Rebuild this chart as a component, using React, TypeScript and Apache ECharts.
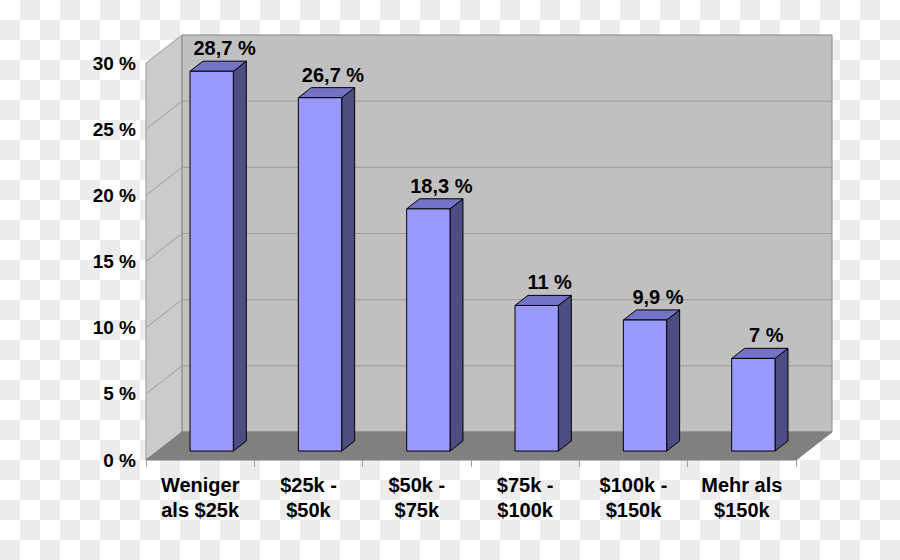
import React, { useEffect, useRef } from "react";
import * as echarts from "echarts";

const categories = [
  "Weniger\nals $25k",
  "$25k -\n$50k",
  "$50k -\n$75k",
  "$75k -\n$100k",
  "$100k -\n$150k",
  "Mehr als\n$150k",
];
const values = [28.7, 26.7, 18.3, 11, 9.9, 7];
const yTicks = [0, 5, 10, 15, 20, 25, 30];

const FONT = '"Liberation Sans", Arial, Helvetica, sans-serif';
const DX = 36;
const DY = -28;
const F0 = 0.32;
const F1 = 0.68;

export default function App() {
  const ref = useRef<HTMLDivElement>(null);
  useEffect(() => {
    if (!ref.current) return;
    const chart = echarts.init(ref.current, null, { renderer: "svg" });
    const fmt = (v: number) => String(v).replace(".", ",") + " %";
    chart.setOption({
      animation: false,
      backgroundColor: "transparent",
      grid: { left: 146, right: 104, top: 63, bottom: 100 },
      xAxis: {
        type: "category",
        data: categories,
        axisLine: { show: false },
        axisTick: { show: true, length: 7, lineStyle: { color: "#a0a0a0" } },
        axisLabel: {
          margin: 12,
          fontSize: 20,
          fontWeight: "bold",
          fontFamily: FONT,
          color: "#000",
          lineHeight: 25,
          interval: 0,
        },
        splitLine: { show: false },
      },
      yAxis: {
        type: "value",
        min: 0,
        max: 30,
        interval: 5,
        axisLine: { show: false },
        axisTick: { show: false },
        splitLine: { show: false },
        axisLabel: {
          formatter: (v: number) => v + " %",
          margin: 10,
          fontSize: 19,
          fontWeight: "bold",
          fontFamily: FONT,
          color: "#000",
        },
      },
      series: [
        {
          type: "custom",
          z: 1,
          silent: true,
          data: [[0, 0]],
          renderItem: (params: any, api: any) => {
            const cs = params.coordSys;
            const x0 = cs.x;
            const x1 = cs.x + cs.width;
            const yT = cs.y;
            const yB = cs.y + cs.height;
            const children: any[] = [
              {
                type: "polygon",
                shape: { points: [[x0, yT], [x0 + DX, yT + DY], [x0 + DX, yB + DY], [x0, yB]] },
                style: { fill: "#cbcbcb", stroke: "#9a9a9a", lineWidth: 1 },
              },
              {
                type: "rect",
                shape: { x: x0 + DX, y: yT + DY, width: cs.width, height: cs.height },
                style: { fill: "#c0c0c0", stroke: "#8a8a8a", lineWidth: 1 },
              },
            ];
            yTicks.forEach((v) => {
              if (v === 0 || v === 30) return;
              const y = api.coord([0, v])[1];
              children.push({
                type: "line",
                shape: { x1: x0 + DX, y1: y + DY, x2: x1 + DX, y2: y + DY },
                style: { stroke: "#9c9c9c", lineWidth: 1 },
              });
              children.push({
                type: "line",
                shape: { x1: x0, y1: y, x2: x0 + DX, y2: y + DY },
                style: { stroke: "#9c9c9c", lineWidth: 1 },
              });
            });
            children.push({
              type: "polygon",
              shape: { points: [[x0, yB], [x0 + DX, yB + DY], [x1 + DX, yB + DY], [x1, yB]] },
              style: { fill: "#808080", stroke: "#808080", lineWidth: 1 },
            });
            return { type: "group", children };
          },
        },
        {
          type: "custom",
          z: 2,
          data: values.map((v, i) => [i, v]),
          encode: { x: 0, y: 1 },
          renderItem: (params: any, api: any) => {
            const idx = api.value(0);
            const val = api.value(1);
            const base = api.coord([idx, 0]);
            const top = api.coord([idx, val]);
            const bw = api.size([1, 0])[0] * 0.4;
            const fx = base[0] - bw / 2 + DX * F0;
            const yb = base[1] + DY * F0;
            const yt = top[1] + DY * F0;
            const ddx = DX * (F1 - F0);
            const ddy = DY * (F1 - F0);
            const stroke = { stroke: "#000", lineWidth: 1, lineJoin: "round" };
            return {
              type: "group",
              children: [
                {
                  type: "polygon",
                  shape: { points: [[fx + bw, yt], [fx + bw + ddx, yt + ddy], [fx + bw + ddx, yb + ddy], [fx + bw, yb]] },
                  style: { fill: "#4d4d82", ...stroke },
                },
                {
                  type: "polygon",
                  shape: { points: [[fx, yt], [fx + ddx, yt + ddy], [fx + bw + ddx, yt + ddy], [fx + bw, yt]] },
                  style: { fill: "#7373c8", ...stroke },
                },
                {
                  type: "rect",
                  shape: { x: fx, y: yt, width: bw, height: yb - yt },
                  style: { fill: "#9999ff", ...stroke },
                },
                {
                  type: "text",
                  style: {
                    text: fmt(val),
                    x: fx + bw / 2 + ddx,
                    y: yt + ddy - 3,
                    align: "center",
                    verticalAlign: "bottom",
                    fontSize: 20,
                    fontWeight: "bold",
                    fontFamily: FONT,
                    fill: "#000",
                  },
                },
              ],
            };
          },
        },
      ],
    });
    return () => chart.dispose();
  }, []);
  return (
    <div
      ref={ref}
      style={{
        position: "absolute",
        left: 0,
        top: 0,
        width: 900,
        height: 560,
        backgroundColor: "#ffffff",
        backgroundImage: "repeating-conic-gradient(#ececec 0 25%, #ffffff 0 50%)",
        backgroundSize: "40px 40px",
        backgroundPosition: "0 0",
      }}
    />
  );
}
